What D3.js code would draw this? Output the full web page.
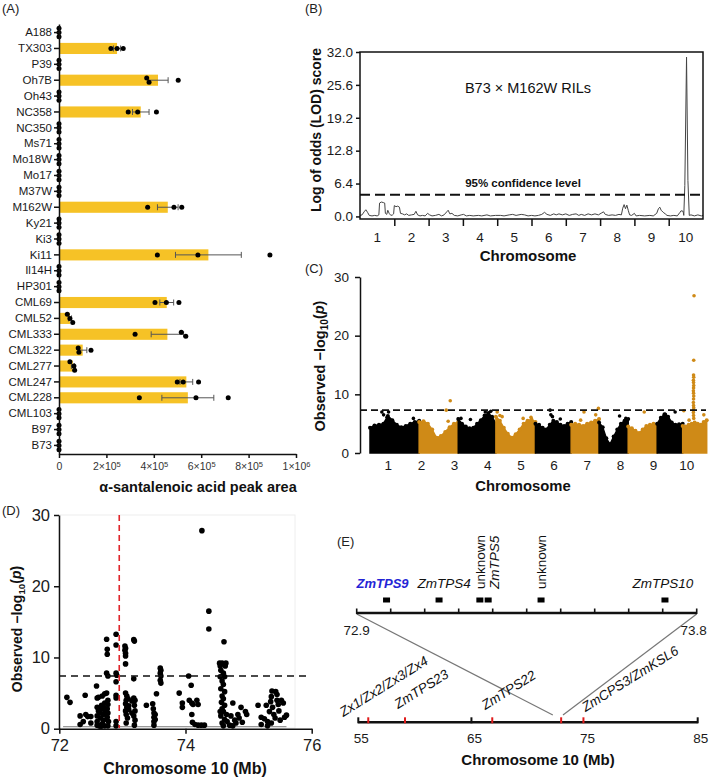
<!DOCTYPE html>
<html><head><meta charset="utf-8">
<script src="https://cdn.jsdelivr.net/npm/d3@7"></script>
<style>
body{margin:0;background:#fff}
svg{display:block}
text{font-family:"Liberation Sans",Arial,Helvetica,sans-serif}
</style>
</head><body>
<svg id="c" width="709" height="782"></svg>
<script>
// ================= DATA =================
// (A) alpha-santalenoic acid peak area, three replicates per inbred line
const inbredLines = ["A188","TX303","P39","Oh7B","Oh43","NC358","NC350","Ms71","Mo18W","Mo17","M37W","M162W","Ky21","Ki3","Ki11","Il14H","HP301","CML69","CML52","CML333","CML322","CML277","CML247","CML228","CML103","B97","B73"];
const peakArea = [
  [0,0,0],[2.19e5,2.45e5,2.71e5],[0,0,0],[3.70e5,3.80e5,5.03e5],[0,0,0],
  [2.92e5,3.32e5,4.11e5],[0,0,0],[0,0,0],[0,0,0],[0,0,0],[0,0,0],
  [3.74e5,4.85e5,5.18e5],[0,0,0],[0,0,0],[4.15e5,5.86e5,8.90e5],[0,0,0],[0,0,0],
  [4.05e5,4.53e5,5.06e5],[0.35e5,0.46e5,0.58e5],[3.21e5,5.16e5,5.35e5],
  [0.81e5,0.84e5,1.35e5],[0.46e5,0.63e5,0.66e5],[4.99e5,5.24e5,5.89e5],
  [3.39e5,5.78e5,7.14e5],[0,0,0],[0,0,0],[0,0,0]
];
const peakAreaTicks = [0,2e5,4e5,6e5,8e5,1e6];

// (B) LOD scan, [genome position in chromosome units, LOD]
const lodScan = [
 [0.00,0.2],[0.06,0.3],[0.12,0.9],[0.17,1.3],[0.22,0.8],[0.27,0.2],[0.35,0.1],[0.43,0.2],[0.50,0.1],[0.55,0.3],
 [0.57,2.6],[0.62,2.8],[0.68,2.7],[0.72,2.6],[0.74,0.6],[0.78,0.4],[0.81,1.2],[0.85,0.6],[0.90,0.2],[0.95,0.3],
 [0.98,0.5],[1.00,2.1],[1.05,1.9],[1.10,2.0],[1.15,1.8],[1.18,0.6],[1.24,0.5],[1.30,0.3],[1.36,0.5],[1.42,0.2],
 [1.50,0.3],[1.58,0.4],[1.63,1.0],[1.68,0.3],[1.75,0.1],[1.82,0.2],[1.90,0.1],[1.97,0.6],[2.03,0.3],[2.10,0.1],
 [2.20,0.2],[2.30,0.4],[2.38,0.1],[2.45,0.3],[2.53,0.9],[2.57,1.2],[2.62,0.5],[2.68,0.6],[2.75,0.2],[2.85,0.1],
 [2.95,0.3],[3.02,0.4],[3.10,0.1],[3.20,0.2],[3.30,0.1],[3.45,0.2],[3.55,0.1],[3.70,0.3],[3.80,0.1],[3.95,0.2],
 [4.10,0.2],[4.20,0.1],[4.35,0.3],[4.45,0.4],[4.55,0.2],[4.70,0.4],[4.80,0.3],[4.90,0.1],[5.00,0.2],[5.10,0.1],
 [5.20,0.2],[5.30,0.4],[5.38,0.8],[5.45,0.4],[5.55,0.2],[5.65,0.5],[5.72,0.3],[5.80,0.5],[5.90,0.3],[6.00,0.5],
 [6.10,0.2],[6.20,0.4],[6.30,0.5],[6.38,0.2],[6.45,0.4],[6.55,0.2],[6.65,0.5],[6.75,0.3],[6.85,0.5],[6.95,0.3],
 [7.05,0.7],[7.10,0.9],[7.15,0.4],[7.25,0.2],[7.35,0.3],[7.45,0.2],[7.55,0.4],[7.62,0.3],[7.66,1.6],[7.70,2.3],
 [7.74,1.5],[7.78,2.2],[7.82,1.2],[7.86,0.3],[7.92,0.2],[8.00,0.6],[8.05,0.1],[8.15,0.2],[8.30,0.1],[8.45,0.2],
 [8.55,0.1],[8.65,0.6],[8.70,1.5],[8.74,1.8],[8.78,1.2],[8.84,0.8],[8.90,0.5],[8.95,0.2],[9.05,0.1],[9.15,0.2],
 [9.25,0.1],[9.33,0.8],[9.36,1.1],[9.42,1.0],[9.44,0.2],[9.47,6.0],[9.52,31.0],[9.56,7.0],[9.60,0.2],[9.65,0.3],
 [9.75,0.1],[9.85,0.3],[9.95,0.1],[10.0,0.2]
];
const lodTicks = [0,6.4,12.8,19.2,25.6,32];
const lodThreshold = 4.2;
const chromosomes = [1,2,3,4,5,6,7,8,9,10];

// (C) GWAS Manhattan: chromosome lengths (Mb), upper envelope of the dense SNP cloud, and individual top SNPs
const chrLengthMb = [307,244,235,247,223,174,182,181,159,150];
const gwasEnvelope = [
 [4.3,4.7,4.8,5.0,6.3,5.6,4.8,4.4,4.6,5.0,5.3,5.5],
 [5.3,5.4,5.0,4.0,2.6,2.9,3.6,4.4,5.0,5.3],
 [5.8,5.0,4.5,4.2,4.3,5.0,5.6,6.4,6.8,6.2,5.0],
 [6.2,5.5,4.3,3.3,2.6,3.2,4.0,5.0,5.5,5.7,5.3],
 [5.0,4.8,4.3,4.0,4.8,5.5,5.3,4.8,4.6,5.0,5.3],
 [4.8,5.0,4.8,4.6,5.0,5.2,5.5,5.8],
 [5.2,4.4,2.5,1.5,2.8,4.0,5.0,5.5,5.8],
 [4.5,4.2,3.8,3.4,4.0,4.6,4.8,5.0,4.8],
 [5.0,6.0,6.6,6.2,5.2,4.8,4.9,5.0],
 [4.6,4.5,4.8,5.0,5.2,5.0,4.8,5.3,5.6]
];
const gwasHits = [
 [1,74,7.0],[1,85,6.5],[1,106,6.1],[1,116,7.0],[1,271,5.9],
 [2,169,7.3],[2,181,5.4],[2,194,8.9],
 [3,17,5.9],[3,76,5.7],[3,169,7.0],[3,203,7.1],
 [4,8,7.0],[4,25,6.4],[4,39,6.2],[4,170,5.9],[4,219,6.1],
 [5,91,7.3],[5,96,6.5],[5,106,6.2],[5,155,5.8],
 [6,59,5.6],[6,80,7.0],[6,153,6.5],[6,170,7.6],
 [7,128,6.3],[7,167,5.9],
 [8,100,7.0],
 [9,51,6.6],[9,112,7.0],
 [10,7,7.2],[10,40,5.6],[10,69,15.8],[10,68,13.3],[10,69,12.9],[10,67,12.4],[10,68,12.0],[10,69,11.5],
 [10,68,11.1],[10,67,10.6],[10,68,10.2],[10,69,9.7],[10,68,9.2],[10,67,8.6],[10,68,8.1],[10,69,7.7],
 [10,68,7.3],[10,67,6.9],[10,68,6.4],[10,69,5.9],[10,71,26.8],[10,132,6.5]
];
const gwasTicks = [0,10,20,30];
const gwasThreshold = 7.3;

// (D) fine mapping on chromosome 10: [Mb, -log10 p]
const fineMapSnps = [
 [72.12,4.4],[72.17,3.7],
 [72.33,1.8],[72.33,0.6],[72.41,4.7],[72.42,2.0],[72.45,1.7],[72.50,1.7],[72.50,0.8],[72.38,1.0],
 [72.59,6.0],[72.60,4.3],[72.62,4.4],[72.60,3.0],[72.62,2.5],[72.60,1.8],[72.60,1.0],[72.60,0.5],[72.65,2.8],[72.65,2.2],
 [72.65,1.5],[72.67,3.3],[72.68,4.6],[72.68,0.7],[72.70,2.0],[72.70,3.0],[72.70,1.2],[72.72,4.9],[72.72,3.6],[72.72,2.6],
 [72.72,0.4],[72.75,12.55],[72.76,11.15],[72.76,10.45],[72.75,7.8],[72.77,7.4],[72.75,5.0],[72.77,4.0],[72.77,3.4],[72.76,2.8],
 [72.77,2.2],[72.76,1.6],[72.78,1.0],[72.77,0.4],[72.63,0.4],[72.66,0.3],
 [72.90,13.25],[72.90,11.75],[72.90,7.8],[72.91,7.5],[72.90,6.6],[72.90,4.7],[72.90,4.3],[72.90,1.0],[72.90,0.4],
 [73.04,11.6],[73.05,11.3],[73.04,11.0],[73.05,10.6],[73.05,10.2],[73.05,9.1],[73.05,5.0],[73.07,4.6],[73.06,4.0],[73.05,3.5],
 [73.07,3.0],[73.05,2.5],[73.06,2.0],[73.08,1.5],[73.06,0.8],[73.09,4.2],[73.10,3.2],[73.10,2.7],
 [73.18,12.5],[73.19,12.3],[73.18,7.0],[73.18,4.3],[73.20,4.0],[73.19,3.3],[73.20,2.5],[73.18,1.8],[73.20,1.2],[73.19,0.5],
 [73.15,3.9],[73.15,2.2],
 [73.38,3.3],[73.48,3.5],[73.49,2.8],[73.50,2.2],[73.50,1.6],[73.50,1.0],[73.50,0.5],[73.52,2.0],[73.52,1.3],[73.54,4.9],
 [73.60,8.5],[73.61,8.2],[73.60,7.8],[73.61,7.4],[73.60,6.8],[73.61,6.4],
 [73.90,5.0],[73.95,3.6],[73.95,3.0],[74.05,7.4],[74.09,6.1],[74.06,4.0],[74.10,3.6],[74.12,3.4],[74.10,2.0],[74.11,0.9],
 [74.15,0.6],[74.20,0.5],[74.25,0.5],[74.30,0.5],[74.18,4.0],[74.20,3.4],[74.26,27.8],[74.37,16.5],[74.37,14.0],
 [74.61,12.2],[74.54,9.2],[74.58,9.2],[74.64,9.2],[74.55,8.8],[74.63,8.8],[74.56,8.2],[74.60,7.8],[74.55,7.3],[74.62,7.3],
 [74.58,6.7],[74.60,6.2],[74.56,5.6],[74.62,5.2],[74.58,4.6],[74.60,4.2],[74.57,3.7],[74.62,3.3],[74.58,2.8],[74.60,2.4],
 [74.56,1.8],[74.62,1.3],[74.58,0.8],[74.60,0.4],[74.65,2.0],[74.66,1.0],[74.55,2.4],
 [74.72,1.8],[74.75,3.6],[74.78,1.2],[74.80,0.8],[74.83,2.0],[74.85,1.5],[74.88,3.0],[74.90,0.9],[74.95,2.4],[74.97,2.0],
 [74.70,0.5],[74.75,0.4],
 [75.15,3.3],[75.20,1.6],[75.20,0.6],[75.25,1.4],[75.30,1.0],[75.30,0.4],[75.33,2.4],[75.35,3.8],[75.36,4.5],[75.37,5.3],
 [75.38,3.0],[75.40,2.0],[75.42,1.5],[75.43,5.2],[75.45,4.8],[75.45,4.0],[75.47,3.4],[75.48,2.5],[75.50,1.2],[75.52,4.0],
 [75.55,3.6],[75.57,1.6],[75.60,1.9],[75.36,0.8],[75.28,3.3]
];
const fineMapXTicks = [72,74,76];
const fineMapYTicks = [0,10,20,30];
const fineMapThreshold = 7.4;
const leadSnpMb = 72.95;
const fineMapBaseline = [72.06, 75.6, 0.28];

// (E) gene models
const topGenes = ["ZmTPS9","ZmTPS4","unknown","ZmTPS5","unknown","ZmTPS10"];
const topGeneMb = [72.979,73.118,73.226,73.248,73.388,73.716];
const topWindowMb = [72.9,73.8];
const bottomGenes = ["Zx1/Zx2/Zx3/Zx4","ZmTPS23","ZmTPS22","","ZmCPS3/ZmKSL6"];
const bottomGeneMb = [55.88,59.13,66.84,72.93,74.9];
const bottomTicks = [55,65,75,85];

// ================= DRAWING =================
const FONT = '"Liberation Sans", Arial, Helvetica, sans-serif';
const svg = d3.select("#c");
const INK = "#111";
function styleAxis(g, size, w){
  g.attr("font-family", FONT).attr("font-size", size);
  g.selectAll("text").attr("fill", "#1a1a1a");
  g.selectAll("line,path").attr("stroke", INK).attr("stroke-width", w || 1.2);
}
function panelLabel(t, x, y){
  svg.append("text").attr("x", x).attr("y", y).attr("font-size", 13).attr("fill", "#222").text(t);
}

// ---------- (A) ----------
panelLabel("(A)", 2, 13);
const gA = svg.append("g");
const xA = d3.scaleLinear().domain([0,1e6]).range([59,296]);
const yA = d3.scaleBand().domain(inbredLines).range([24,454]).paddingInner(0.3).paddingOuter(0.19);
const statsA = inbredLines.map((l,i)=>{
  const v = peakArea[i];
  return {l, v, m: d3.mean(v), sem: d3.deviation(v)/Math.sqrt(v.length)};
});
gA.selectAll("rect.bar").data(statsA.filter(d=>d.m>0)).join("rect")
  .attr("x", xA(0)).attr("y", d=>yA(d.l))
  .attr("width", d=>xA(d.m)-xA(0)).attr("height", yA.bandwidth())
  .attr("fill", "#F6C226");
// error bars (SEM)
const eb = gA.selectAll("g.eb").data(statsA.filter(d=>d.m>0)).join("g")
  .attr("transform", d=>`translate(0,${yA(d.l)+yA.bandwidth()/2})`)
  .attr("stroke", "#555").attr("stroke-width", 1);
eb.append("line").attr("x1", d=>xA(d.m-d.sem)).attr("x2", d=>xA(d.m+d.sem));
eb.append("line").attr("x1", d=>xA(d.m-d.sem)).attr("x2", d=>xA(d.m-d.sem)).attr("y1",-3).attr("y2",3);
eb.append("line").attr("x1", d=>xA(d.m+d.sem)).attr("x2", d=>xA(d.m+d.sem)).attr("y1",-3).attr("y2",3);
// replicate points, dodged vertically when overlapping
const ptsA = [];
statsA.forEach(d=>{
  const xs = d.v.map(v=>xA(v)).sort((a,b)=>a-b);
  const clusters = [];
  xs.forEach(x=>{const c = clusters[clusters.length-1]; if (c && x - c[c.length-1] < 5) c.push(x); else clusters.push([x]);});
  const cy = yA(d.l) + yA.bandwidth()/2;
  clusters.forEach(c=>c.forEach((x,k)=>ptsA.push({x, y: cy + (k-(c.length-1)/2)*4.2})));
});
gA.selectAll("circle").data(ptsA).join("circle").attr("cx", d=>d.x).attr("cy", d=>d.y).attr("r", 2.5).attr("fill", "#000");
const axAy = gA.append("g").attr("transform", "translate(59,0)")
  .call(d3.axisLeft(yA).tickSize(5).tickSizeOuter(0).tickPadding(2));
styleAxis(axAy, 11.5, 1.5);
const axAx = gA.append("g").attr("transform", "translate(0,454)")
  .call(d3.axisBottom(xA).tickValues(peakAreaTicks).tickSize(4).tickSizeOuter(0).tickPadding(5));
styleAxis(axAx, 10.5, 1.5);
axAx.selectAll("text").attr("fill", "#333").each(function(d){
  const t = d3.select(this); t.text(null);
  if (d === 0) { t.text("0"); return; }
  const e = Math.floor(Math.log10(d) + 1e-9), m = Math.round(d / Math.pow(10, e));
  t.append("tspan").text(m + "×10");
  t.append("tspan").attr("dy", "-0.45em").attr("font-size", "0.72em").text(e);
});
gA.append("text").attr("x", 198).attr("y", 492).attr("text-anchor", "middle")
  .attr("font-size", 14.5).attr("font-weight", "bold").attr("fill", INK).text("α-santalenoic acid peak area");

// ---------- (B) ----------
panelLabel("(B)", 305, 13);
const gB = svg.append("g");
const xB = d3.scaleLinear().domain([0,10]).range([360,703]);
const yB = d3.scaleLinear().domain([-0.5,32]).range([219,52]);
gB.append("defs").append("clipPath").attr("id", "clipB").append("rect")
  .attr("x", 360).attr("y", 52).attr("width", 343).attr("height", 167);
gB.append("path").datum(lodScan).attr("clip-path", "url(#clipB)")
  .attr("fill", "none").attr("stroke", "#444").attr("stroke-width", 1)
  .attr("d", d3.line().x(d=>xB(d[0])).y(d=>yB(d[1])));
gB.append("line").attr("x1", 360).attr("x2", 703).attr("y1", yB(lodThreshold)).attr("y2", yB(lodThreshold))
  .attr("stroke", INK).attr("stroke-width", 2).attr("stroke-dasharray", "10,5");
gB.append("rect").attr("x", 360).attr("y", 52).attr("width", 343).attr("height", 167)
  .attr("fill", "none").attr("stroke", INK).attr("stroke-width", 1.5);
const axBy = gB.append("g").attr("transform", "translate(360,0)")
  .call(d3.axisLeft(yB).tickValues(lodTicks).tickFormat(d3.format(".1f")).tickSize(4).tickSizeOuter(0).tickPadding(3));
styleAxis(axBy, 13.5, 1.5); axBy.select(".domain").remove();
const axBx = gB.append("g").attr("transform", "translate(0,219)")
  .call(d3.axisBottom(xB).tickValues(d3.range(1,10)).tickFormat("").tickSize(7).tickSizeOuter(0));
styleAxis(axBx, 13.5, 1.5); axBx.select(".domain").remove();
gB.selectAll("text.chrB").data(chromosomes).join("text")
  .attr("x", d=>xB(d-0.5)).attr("y", 242).attr("text-anchor", "middle")
  .attr("font-size", 13.5).attr("fill", "#1a1a1a").text(d=>d);
gB.append("text").attr("x", 528).attr("y", 93).attr("text-anchor", "middle").attr("font-size", 14.5).attr("fill", INK).text("B73 × M162W RILs");
gB.append("text").attr("x", 523).attr("y", 187).attr("text-anchor", "middle").attr("font-size", 11.5).attr("font-weight", "bold").attr("fill", INK).text("95% confidence level");
gB.append("text").attr("transform", "translate(321,130) rotate(-90)").attr("text-anchor", "middle")
  .attr("font-size", 14).attr("font-weight", "bold").attr("fill", INK).text("Log of odds (LOD) score");
gB.append("text").attr("x", 528).attr("y", 261).attr("text-anchor", "middle").attr("font-size", 15).attr("font-weight", "bold").attr("fill", INK).text("Chromosome");

// ---------- (C) ----------
panelLabel("(C)", 305, 273);
const gC = svg.append("g");
const chrOffset = chrLengthMb.map((l,i)=>d3.sum(chrLengthMb.slice(0,i)));
const totalMb = d3.sum(chrLengthMb);
const xC = d3.scaleLinear().domain([0,totalMb]).range([370,706.7]);
const yC = d3.scaleLinear().domain([0,30]).range([453,277]);
const colC = i => (i % 2 === 0) ? "#000000" : "#CF8A17";
gwasEnvelope.forEach((env,i)=>{
  const pts = env.map((v,j)=>[chrOffset[i] + j/(env.length-1)*chrLengthMb[i], v]);
  gC.append("path").datum(pts).attr("fill", colC(i)).attr("stroke", colC(i)).attr("stroke-width", 1.5)
    .attr("d", d3.area().x(d=>xC(d[0])).y0(yC(0)).y1(d=>yC(d[1])));
  gC.selectAll(null).data(pts).join("circle").attr("cx", d=>xC(d[0])).attr("cy", d=>yC(d[1])).attr("r", 2).attr("fill", colC(i));
});
gC.selectAll("circle.hit").data(gwasHits).join("circle").attr("class", "hit")
  .attr("cx", d=>xC(chrOffset[d[0]-1] + d[1])).attr("cy", d=>yC(d[2])).attr("r", 1.8).attr("fill", d=>colC(d[0]-1));
gC.append("line").attr("x1", 360).attr("x2", 706).attr("y1", yC(gwasThreshold)).attr("y2", yC(gwasThreshold))
  .attr("stroke", INK).attr("stroke-width", 1.8).attr("stroke-dasharray", "7,4");
const axCy = gC.append("g").attr("transform", "translate(360,0)")
  .call(d3.axisLeft(yC).tickValues(gwasTicks).tickSize(5).tickSizeOuter(0).tickPadding(6));
styleAxis(axCy, 13.5, 1.5);
const xCLab = d3.scalePoint().domain(chromosomes).range([388.3,686.7]);
gC.selectAll("text.chrC").data(chromosomes).join("text")
  .attr("x", d=>xCLab(d)).attr("y", 470).attr("text-anchor", "middle")
  .attr("font-size", 13.5).attr("fill", "#1a1a1a").text(d=>d);
const ylabC = gC.append("text").attr("transform", "translate(325,366) rotate(-90)").attr("text-anchor", "middle")
  .attr("font-size", 14.5).attr("font-weight", "bold").attr("fill", INK);
ylabC.append("tspan").text("Observed −log");
ylabC.append("tspan").attr("dy", "0.3em").attr("font-size", "0.7em").text("10");
ylabC.append("tspan").attr("dy", "-0.3em").text("(");
ylabC.append("tspan").attr("font-style", "italic").text("p");
ylabC.append("tspan").text(")");
gC.append("text").attr("x", 523).attr("y", 491).attr("text-anchor", "middle").attr("font-size", 14.8).attr("font-weight", "bold").attr("fill", INK).text("Chromosome");

// ---------- (D) ----------
panelLabel("(D)", 2, 515);
const gD = svg.append("g");
const xD = d3.scaleLinear().domain([72,76]).range([59.3,311.7]);
const yD = d3.scaleLinear().domain([0,30]).range([728.7,515]);
gD.append("rect").attr("x", 59).attr("y", 515).attr("width", 236).attr("height", 213).attr("fill", "none").attr("stroke", "#eeeeee");
gD.append("line").attr("x1", xD(fineMapBaseline[0])).attr("x2", xD(fineMapBaseline[1]))
  .attr("y1", yD(fineMapBaseline[2])).attr("y2", yD(fineMapBaseline[2])).attr("stroke", "#999").attr("stroke-width", 1.2);
gD.selectAll("circle").data(fineMapSnps).join("circle")
  .attr("cx", d=>xD(d[0])).attr("cy", d=>yD(d[1])).attr("r", 2.8).attr("fill", "#000");
gD.append("line").attr("x1", 59).attr("x2", 310).attr("y1", yD(fineMapThreshold)).attr("y2", yD(fineMapThreshold))
  .attr("stroke", INK).attr("stroke-width", 1.6).attr("stroke-dasharray", "7,5");
gD.append("line").attr("x1", xD(leadSnpMb)).attr("x2", xD(leadSnpMb)).attr("y1", 515).attr("y2", 728)
  .attr("stroke", "#E0262B").attr("stroke-width", 1.6).attr("stroke-dasharray", "6,4");
const axDy = gD.append("g").attr("transform", "translate(59,0)")
  .call(d3.axisLeft(yD).tickValues(fineMapYTicks).tickFormat(d3.format("d")).tickSize(5).tickSizeOuter(0).tickPadding(4));
styleAxis(axDy, 16.5, 1.5);
const axDx = gD.append("g").attr("transform", "translate(0,728.7)")
  .call(d3.axisBottom(xD).tickValues(fineMapXTicks).tickFormat(d3.format("d")).tickSize(5).tickSizeOuter(0).tickPadding(6));
styleAxis(axDx, 16.5, 1.5);
const ylabD = gD.append("text").attr("transform", "translate(22,629) rotate(-90)").attr("text-anchor", "middle")
  .attr("font-size", 14).attr("font-weight", "bold").attr("fill", INK);
ylabD.append("tspan").text("Observed −log");
ylabD.append("tspan").attr("dy", "0.3em").attr("font-size", "0.7em").text("10");
ylabD.append("tspan").attr("dy", "-0.3em").text("(");
ylabD.append("tspan").attr("font-style", "italic").text("p");
ylabD.append("tspan").text(")");
gD.append("text").attr("x", 185).attr("y", 774).attr("text-anchor", "middle").attr("font-size", 16).attr("font-weight", "bold").attr("fill", INK).text("Chromosome 10 (Mb)");

// ---------- (E) ----------
panelLabel("(E)", 337, 546);
const gE = svg.append("g");
const xTop = d3.scaleLinear().domain(topWindowMb).range([356.7,696.7]);
const xBot = d3.scaleLinear().domain([55,85]).range([358.3,697.7]);
const yTopBar = 613, yBotBar = 722.3;
// connecting lines from the zoom window to the chromosome scale
gE.selectAll("line.link").data(topWindowMb).join("line")
  .attr("x1", d=>xTop(d)).attr("y1", yTopBar+1)
  .attr("x2", d=>xBot(d)-8).attr("y2", 715)
  .attr("stroke", "#777").attr("stroke-width", 1.2);
// top bar
gE.append("line").attr("x1", 356.7).attr("x2", 696.7).attr("y1", yTopBar).attr("y2", yTopBar).attr("stroke", INK).attr("stroke-width", 2.5);
gE.selectAll("line.tt").data(d3.range(11)).join("line")
  .attr("x1", k=>xTop(topWindowMb[0] + k*(topWindowMb[1]-topWindowMb[0])/10))
  .attr("x2", k=>xTop(topWindowMb[0] + k*(topWindowMb[1]-topWindowMb[0])/10))
  .attr("y1", yTopBar-4.5).attr("y2", yTopBar+1).attr("stroke", INK).attr("stroke-width", 1.6);
gE.selectAll("text.tw").data(topWindowMb).join("text")
  .attr("x", (d,i)=>xTop(d) + (i===0 ? 0 : -3)).attr("y", 635).attr("text-anchor", "middle")
  .attr("font-size", 13.5).attr("fill", "#1a1a1a").text(d=>d.toFixed(1));
gE.selectAll("rect.gene").data(topGeneMb).join("rect")
  .attr("x", d=>xTop(d)-3.5).attr("y", 597.5).attr("width", 7).attr("height", 5).attr("fill", "#000");
const vertical = [false,false,true,true,true,false];
const vdx = [-4,5,5,10.5,5,-2];
topGenes.forEach((g,i)=>{
  const t = gE.append("text").attr("font-size", i===0 ? 13 : 13.5).attr("fill", i===0 ? "#2424D6" : "#111").text(g);
  if (g !== "unknown") t.attr("font-style", "italic");
  if (i === 0) t.attr("font-weight", "bold");
  if (vertical[i]) t.attr("transform", `translate(${xTop(topGeneMb[i]) + vdx[i]},589) rotate(-90)`);
  else t.attr("x", xTop(topGeneMb[i]) + vdx[i]).attr("y", 588).attr("text-anchor", "middle");
});
// bottom bar
gE.append("line").attr("x1", 358.3).attr("x2", 697.7).attr("y1", yBotBar).attr("y2", yBotBar).attr("stroke", INK).attr("stroke-width", 2.5);
gE.selectAll("line.bt").data([55,65,85]).join("line")
  .attr("x1", d=>xBot(d)).attr("x2", d=>xBot(d)).attr("y1", yBotBar-5).attr("y2", yBotBar+1)
  .attr("stroke", INK).attr("stroke-width", 2);
gE.selectAll("line.rt").data(bottomGeneMb).join("line")
  .attr("x1", d=>xBot(d)).attr("x2", d=>xBot(d)).attr("y1", yBotBar-5).attr("y2", yBotBar+1)
  .attr("stroke", "#E01B1B").attr("stroke-width", 2);
gE.selectAll("text.bl").data(bottomTicks).join("text")
  .attr("x", d=>xBot(d) + 3).attr("y", 743).attr("text-anchor", "middle")
  .attr("font-size", 13.5).attr("fill", "#1a1a1a").text(d=>d);
const labDx = [-25,-7,-7,0,2], labY = [717,709,710,0,712];
bottomGenes.forEach((g,i)=>{
  if (!g) return;
  gE.append("text").attr("transform", `translate(${xBot(bottomGeneMb[i]) + labDx[i]},${labY[i]}) rotate(-32)`)
    .attr("font-size", 13.5).attr("font-style", "italic").attr("fill", "#111").text(g);
});
gE.append("text").attr("x", 538).attr("y", 765).attr("text-anchor", "middle").attr("font-size", 15).attr("font-weight", "bold").attr("fill", INK).text("Chromosome 10 (Mb)");
</script>
</body></html>
